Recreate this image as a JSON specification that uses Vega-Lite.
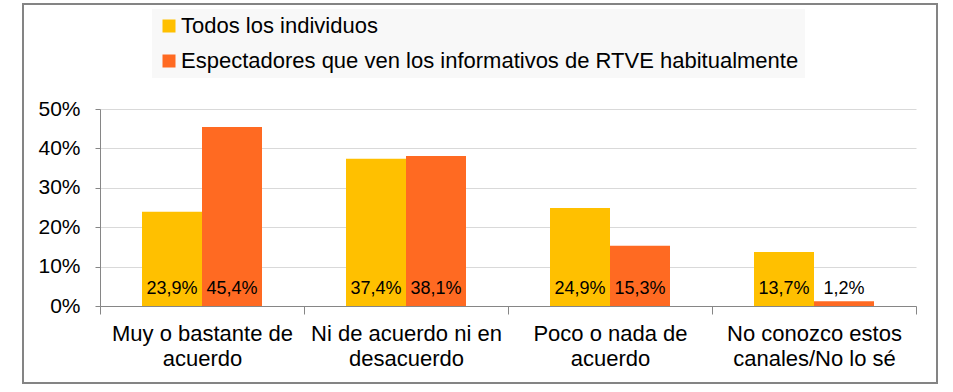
{
  "$schema": "https://vega.github.io/schema/vega-lite/v6.json",
  "width": 914,
  "height": 379,
  "autosize": "none",
  "padding": {"left": 23, "top": 4, "right": 16, "bottom": 9},
  "background": "white",
  "config": {
    "locale": {"number": {"decimal": ",", "thousands": ".", "grouping": [3], "currency": ["", " €"]}},
    "view": {"stroke": "#848484", "strokeWidth": 2},
    "font": "Liberation Sans"
  },
  "data": {
    "values": [
      {"categoria": "Muy o bastante de acuerdo", "serie": "Todos los individuos", "valor": 0.239},
      {"categoria": "Muy o bastante de acuerdo", "serie": "Espectadores que ven los informativos de RTVE habitualmente", "valor": 0.454},
      {"categoria": "Ni de acuerdo ni en desacuerdo", "serie": "Todos los individuos", "valor": 0.374},
      {"categoria": "Ni de acuerdo ni en desacuerdo", "serie": "Espectadores que ven los informativos de RTVE habitualmente", "valor": 0.381},
      {"categoria": "Poco o nada de acuerdo", "serie": "Todos los individuos", "valor": 0.249},
      {"categoria": "Poco o nada de acuerdo", "serie": "Espectadores que ven los informativos de RTVE habitualmente", "valor": 0.153},
      {"categoria": "No conozco estos canales/No lo sé", "serie": "Todos los individuos", "valor": 0.137},
      {"categoria": "No conozco estos canales/No lo sé", "serie": "Espectadores que ven los informativos de RTVE habitualmente", "valor": 0.012}
    ]
  },
  "encoding": {
    "x": {
      "field": "categoria",
      "type": "nominal",
      "sort": null,
      "scale": {"range": [77, 893], "paddingInner": 0, "paddingOuter": 0},
      "axis": {
        "title": null,
        "offset": -77,
        "labelAngle": 0,
        "tickBand": "extent",
        "domainColor": "#868686",
        "tickColor": "#868686",
        "tickSize": 8,
        "labelPadding": 9,
        "labelFontSize": 22,
        "labelColor": "#000000",
        "labelLineHeight": 25,
        "labelLimit": 0,
        "grid": false,
        "labelExpr": "datum.label == 'Muy o bastante de acuerdo' ? ['Muy o bastante de', 'acuerdo'] : datum.label == 'Ni de acuerdo ni en desacuerdo' ? ['Ni de acuerdo ni en', 'desacuerdo'] : datum.label == 'Poco o nada de acuerdo' ? ['Poco o nada de', 'acuerdo'] : datum.label == 'No conozco estos canales/No lo sé' ? ['No conozco estos', 'canales/No lo sé'] : ''"
      }
    },
    "xOffset": {
      "field": "serie",
      "type": "nominal",
      "sort": ["Todos los individuos", "Espectadores que ven los informativos de RTVE habitualmente"],
      "scale": {"paddingInner": 0, "paddingOuter": 0.7}
    }
  },
  "layer": [
    {
      "mark": {"type": "bar"},
      "encoding": {
        "y": {
          "field": "valor",
          "type": "quantitative",
          "title": null,
          "scale": {"domain": [0, 0.5], "range": [302, 105]},
          "axis": {
            "title": null,
            "format": ".0%",
            "values": [0, 0.1, 0.2, 0.3, 0.4, 0.5],
            "offset": -77,
            "grid": true,
            "gridColor": "#D9D9D9",
            "gridWidth": 1,
            "domainColor": "#868686",
            "tickColor": "#868686",
            "tickSize": 5,
            "labelPadding": 15,
            "labelFontSize": 21,
            "labelColor": "#000000"
          }
        },
        "color": {
          "field": "serie",
          "type": "nominal",
          "scale": {
            "domain": ["Todos los individuos", "Espectadores que ven los informativos de RTVE habitualmente"],
            "range": ["#FFC000", "#FF6A22"]
          },
          "legend": {
            "orient": "none",
            "legendX": 129,
            "legendY": 5,
            "title": null,
            "direction": "vertical",
            "symbolType": "square",
            "symbolSize": 169,
            "symbolStrokeWidth": 0,
            "labelFontSize": 22,
            "labelOffset": 1,
            "rowPadding": 13,
            "padding": 6,
            "fillColor": "#F8F8F8",
            "labelLimit": 0,
            "labelColor": "#000000"
          }
        }
      }
    },
    {
      "mark": {"type": "text", "baseline": "alphabetic", "dy": -12, "fontSize": 18, "color": "#000000"},
      "encoding": {
        "y": {"datum": 0, "type": "quantitative", "title": null},
        "text": {"field": "valor", "type": "quantitative", "format": ".1%"}
      }
    }
  ]
}
